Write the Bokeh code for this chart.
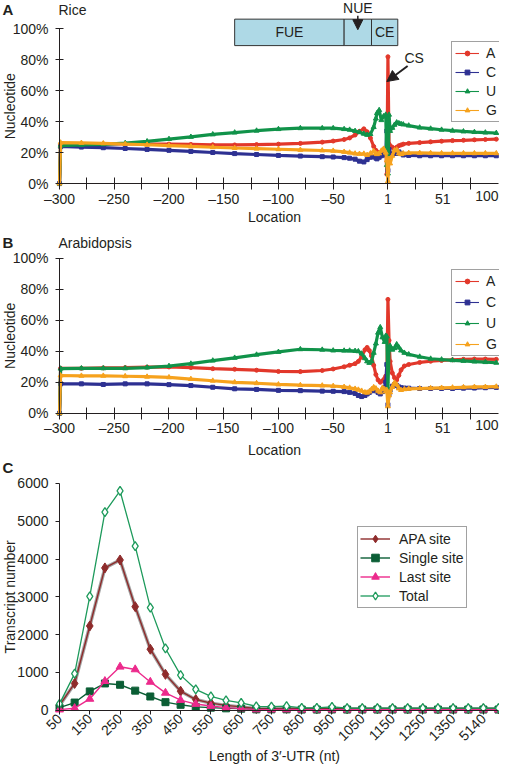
import math
from bokeh.plotting import figure
from bokeh.layouts import column
from bokeh.models import (Range1d, FixedTicker, Label, Legend, LegendItem, Arrow,
                          NormalHead, PrintfTickFormatter)
from bokeh.embed import file_html
from bokeh.resources import INLINE

FONT = "Liberation Sans"
TXT = "#231f20"

# ---------------- data: panel A (rice) ----------------
rice_loc = [-300, -299, -280, -260, -240, -220, -200, -180, -160, -140, -120, -100, -80, -60, -50, -40,
            -35, -30, -26, -22, -19, -16, -13, -11, -10, -8, -6, -4, -2, -1,
            1, 2, 3, 5, 7, 9, 11, 13, 15, 20, 30, 40, 50, 60, 70, 80, 90, 100]
rice_A = [0, 25.5, 25.5, 25.6, 25.6, 25.6, 25.5, 25.3, 25.1, 25.0, 25.2, 25.5, 26.0, 26.8, 27.5, 28.5,
          29.5, 31.4, 33.8, 35.4, 33.5, 29.5, 24.0, 21.5, 20.5, 20.0, 20.3, 21.5, 22.5, 6.0,
          82.0, 25.5, 24.5, 23.5, 22.5, 23.5, 24.5, 25.0, 25.5, 26.0, 26.5, 27.0, 27.4, 27.8, 28.0, 28.3, 28.5, 28.7]
rice_C = [0, 24.0, 23.6, 23.2, 22.7, 22.1, 21.5, 20.8, 20.1, 19.4, 18.8, 18.2, 17.8, 17.4, 17.2, 16.8,
          16.4, 15.8, 14.5, 14.0, 15.5, 17.0, 17.5, 16.5, 16.0, 17.0, 18.0, 18.5, 19.5, 34.0,
          8.5, 22.0, 19.5, 19.0, 19.5, 19.5, 20.5, 19.5, 18.5, 18.2, 18.0, 18.0, 18.0, 18.0, 18.0, 18.0, 18.0, 18.0]
rice_U = [0, 24.5, 25.0, 25.4, 26.2, 27.3, 28.8, 30.2, 31.8, 33.0, 34.2, 35.2, 35.8, 35.8, 35.8, 35.2,
          34.8, 34.0, 33.2, 32.2, 31.5, 32.0, 36.5, 42.0, 45.5, 47.5, 41.0, 43.5, 44.5, 12.0,
          6.5, 44.5, 34.0, 36.0, 38.0, 39.5, 39.0, 38.5, 38.2, 37.5, 36.2, 35.5, 34.8, 34.2, 33.7, 33.3, 33.0, 32.7]
rice_G = [0, 26.5, 26.3, 26.0, 25.6, 25.1, 24.6, 24.0, 23.5, 23.0, 22.6, 22.2, 21.8, 21.4, 21.2, 20.5,
          20.0, 19.4, 19.2, 19.3, 18.5, 19.5, 21.0, 19.5, 19.0, 19.5, 21.3, 22.5, 20.0, 15.0,
          1.5, 16.0, 13.0, 18.0, 21.5, 22.0, 19.5, 19.0, 19.5, 19.8, 19.8, 19.7, 19.6, 19.6, 19.6, 19.6, 19.6, 19.6]

# ---------------- data: panel B (Arabidopsis) ----------------
arab_loc = [-300, -299, -280, -260, -240, -220, -200, -180, -160, -140, -120, -100, -80, -60, -50, -40,
            -35, -30, -27, -24, -21, -19, -17, -15, -13, -11, -9, -7, -5, -3, -2, -1,
            1, 2, 3, 5, 7, 9, 11, 13, 16, 20, 30, 40, 50, 60, 70, 80, 90, 100]
arab_A = [0, 29.0, 29.0, 29.3, 29.5, 29.8, 29.9, 29.5, 28.8, 28.4, 27.8, 27.0, 26.9, 27.6, 28.6, 30.0,
          31.0, 32.0, 33.5, 36.5, 41.0, 42.5, 40.5, 37.0, 31.0, 25.0, 21.5, 20.0, 21.0, 22.5, 24.0, 20.0,
          73.5, 47.0, 33.5, 26.0, 23.0, 21.5, 24.5, 28.0, 30.5, 31.5, 32.8, 33.6, 34.1, 34.5, 34.8, 35.0, 35.0, 34.8]
arab_C = [0, 19.0, 19.0, 18.6, 19.0, 19.0, 18.5, 17.9, 16.8, 15.8, 15.4, 14.8, 14.6, 14.3, 14.2, 14.0,
          13.5, 12.8, 11.5, 10.8, 11.5, 12.5, 13.5, 14.5, 15.5, 14.5, 13.5, 12.5, 14.0, 16.5, 20.0, 31.5,
          5.5, 12.5, 15.0, 17.5, 18.5, 18.0, 17.0, 16.5, 16.3, 16.2, 16.0, 16.0, 16.0, 16.0, 16.2, 16.3, 16.5, 16.7]
arab_U = [0, 28.8, 29.0, 29.0, 29.0, 29.5, 30.5, 32.0, 34.0, 35.8, 37.8, 39.6, 41.3, 41.0, 40.5, 40.4,
          40.4, 40.2, 40.0, 38.5, 35.5, 33.5, 32.5, 33.5, 39.0, 45.0, 52.0, 55.5, 49.0, 46.0, 50.0, 49.5,
          16.0, 42.0, 43.5, 41.0, 42.0, 44.5, 42.5, 40.5, 39.0, 38.0, 36.5, 35.2, 34.7, 34.2, 33.8, 33.4, 33.0, 32.6]
arab_G = [0, 24.4, 24.2, 24.2, 23.9, 23.6, 23.2, 22.1, 21.0, 20.0, 19.4, 18.6, 18.2, 17.9, 17.6, 17.0,
          16.5, 15.8, 15.2, 14.5, 13.5, 13.3, 14.0, 15.5, 16.8, 16.0, 14.5, 13.5, 16.5, 15.5, 14.0, 15.0,
          4.5, 11.5, 13.5, 17.0, 19.8, 18.5, 16.0, 15.0, 15.5, 15.8, 16.0, 16.2, 16.4, 16.6, 16.8, 17.0, 17.0, 17.2]

loc_tick_labels = [-300, -250, -200, -150, -100, -50, 1, 51]
loc_minor_ticks = [-275, -225, -175, -125, -75, -25, 26, 76]
loc_last_label = 100
pct_ticks = [0, 20, 40, 60, 80, 100]

region_edges = [-140, -40, -15, 10]
region_names = ["FUE", "NUE", "CE"]

# ---------------- data: panel C ----------------
utr_len = ["50", "100", "150", "200", "250", "300", "350", "400", "450", "500", "550", "600", "650",
           "700", "750", "800", "850", "900", "950", "1000", "1050", "1100", "1150", "1200", "1250",
           "1300", "1350", "1400", "5140", ">5140"]
apa_site = [130, 710, 2230, 3765, 3975, 2740, 1615, 950, 505, 285, 190, 130, 90, 45, 45, 50, 40, 40,
            45, 40, 40, 40, 40, 40, 40, 40, 40, 40, 40, 40]
single_site = [70, 205, 500, 710, 675, 520, 365, 215, 145, 90, 70, 52, 43, 25, 25, 25, 20, 20, 22, 20,
               20, 20, 20, 20, 20, 20, 20, 20, 20, 20]
last_site = [17, 55, 300, 770, 1150, 1080, 750, 460, 270, 165, 112, 70, 45, 20, 18, 20, 15, 15, 17, 15,
             15, 15, 15, 15, 15, 15, 15, 15, 15, 15]
total = [170, 970, 3010, 5240, 5800, 4340, 2715, 1635, 930, 555, 370, 260, 195, 105, 95, 110, 65, 65,
         90, 60, 55, 55, 55, 55, 55, 55, 55, 60, 60, 60]
count_ticks = [0, 1000, 2000, 3000, 4000, 5000, 6000]


def pos(loc):
    """Position index on the location axis (there is no location 0)."""
    return loc + 300 if loc < 0 else loc + 299


# ---------------- layout constants (canvas pixels) ----------------
W = 499
X0_PX = 59          # canvas x of the vertical axis
X_END_PX = 498      # canvas x where the horizontal axis ends


def make_fig(h, x_lo, x_hi, py_top, py_zero, top_val):
    k = (py_zero - py_top) / top_val          # pixels per y unit
    kx = (X_END_PX - X0_PX) / (x_hi - x_lo)    # pixels per x unit
    xr = Range1d(x_lo - X0_PX / kx, x_lo + (W - X0_PX) / kx)
    yr = Range1d(-(h - py_zero) / k, py_zero / k)
    p = figure(width=W, height=h, output_backend="svg", toolbar_location=None,
               x_range=xr, y_range=yr, min_border=0)
    p.outline_line_color = None
    p.xgrid.visible = False
    p.ygrid.visible = False
    p.background_fill_color = "white"
    p.border_fill_color = "white"
    for ax in (p.xaxis[0], p.yaxis[0]):
        ax.axis_line_color = TXT
        ax.axis_line_width = 1
        ax.major_tick_line_color = TXT
        ax.minor_tick_line_color = TXT
        ax.major_label_text_font = FONT
        ax.major_label_text_font_size = "14px"
        ax.major_label_text_color = TXT
    p.xaxis[0].fixed_location = 0
    p.yaxis[0].fixed_location = x_lo
    p.xaxis[0].bounds = (x_lo, x_hi)
    p.yaxis[0].bounds = (0, top_val)
    return p


def txt(p, text, x, y, xu="screen", yu="screen", align="left", size="14px", style="normal",
        angle=0.0, baseline="middle"):
    p.add_layout(Label(x=x, y=y, x_units=xu, y_units=yu, text=text, text_align=align,
                       text_baseline=baseline, text_font=FONT, text_font_size=size,
                       text_font_style=style, text_color=TXT, angle=angle))


COLORS = {"A": "#e2382b", "C": "#2e3192", "U": "#11934a", "G": "#f6a21e"}
MARKERS = {"A": ("circle", 4), "C": ("square", 4), "U": ("triangle", 5), "G": ("triangle", 5)}


def nuc_panel(letter, species, locs, series, h, py_top, py_zero, leg_y, leg_gap, letter_y, loc_label_y):
    xs = [pos(v) for v in locs]
    x_hi = pos(loc_last_label) + 2
    p = make_fig(h, 0, x_hi, py_top, py_zero, 100)
    items = []
    for name in ["A", "C", "U", "G"]:
        vals = series[name]
        col = COLORS[name]
        mk, ms = MARKERS[name]
        p.line(xs, vals, line_color=col, line_width=3.2)
        thin = p.line(xs, vals, line_color=col, line_width=1.1)
        mks = p.scatter(xs, vals, marker=mk, size=ms, fill_color=col, line_color=col)
        items.append(LegendItem(label=name, renderers=[thin, mks]))

    xa = p.xaxis[0]
    xa.ticker = FixedTicker(ticks=[pos(v) for v in loc_tick_labels],
                            minor_ticks=[pos(v) for v in loc_minor_ticks])
    xa.major_label_overrides = {pos(v): str(v).replace("-", "\u2013") for v in loc_tick_labels}
    xa.major_tick_in = 6
    xa.major_tick_out = 6
    xa.minor_tick_in = 6
    xa.minor_tick_out = 6
    xa.major_label_standoff = 1

    ya = p.yaxis[0]
    ya.ticker = FixedTicker(ticks=pct_ticks, minor_ticks=[])
    ya.formatter = PrintfTickFormatter(format="%d%%")
    ya.major_tick_in = 4
    ya.major_tick_out = 4
    ya.major_label_standoff = 7

    # last location label, right-aligned at the end of the axis
    txt(p, str(loc_last_label), x_hi, h - py_zero - 7, xu="data", yu="screen", align="right",
        baseline="top")

    legend = Legend(items=items, location=(451, leg_y), padding=3, spacing=leg_gap,
                    glyph_width=24, glyph_height=12, label_height=12, label_width=10,
                    label_standoff=7, label_text_font=FONT, label_text_font_size="14px",
                    label_text_color=TXT, border_line_color="#444444", border_line_width=1,
                    margin=0, background_fill_color="white", background_fill_alpha=1)
    p.add_layout(legend)

    txt(p, letter, 2, letter_y, size="15px", style="bold")
    txt(p, species, 58, letter_y)
    txt(p, "Nucleotide", 9, 50, yu="data", align="center", angle=math.pi / 2)
    txt(p, "Location", 274, loc_label_y, align="center")
    return p


pa = nuc_panel("A", "Rice", rice_loc, {"A": rice_A, "C": rice_C, "U": rice_U, "G": rice_G},
               h=225, py_top=28.4, py_zero=183.1, leg_y=103, leg_gap=3, letter_y=216, loc_label_y=9)

# region diagram
lefts = [pos(v) for v in region_edges[:-1]]
rights = [pos(v) for v in region_edges[1:]]
pa.quad(left=lefts, right=rights, bottom=89.2, top=106.3, fill_color="#aed9e6",
        line_color="#333333", line_width=1)
mids = [(a + b) / 2 for a, b in zip(lefts, rights)]
txt(pa, region_names[0], mids[0], 97.7, xu="data", yu="data", align="center")
txt(pa, region_names[2], mids[2], 97.7, xu="data", yu="data", align="center")
txt(pa, region_names[1], mids[1], 113.3, xu="data", yu="data", align="center")
pa.add_layout(Arrow(end=NormalHead(size=10, fill_color=TXT, line_color=TXT), x_start=mids[1],
                    y_start=108.5, x_end=mids[1], y_end=99.5, line_color=TXT, line_width=1.5))
# cleavage site arrow
pa.add_layout(Arrow(end=NormalHead(size=11, fill_color=TXT, line_color=TXT), x_start=pos(19),
                    y_start=76, x_end=pos(-1), y_end=66, line_color=TXT, line_width=2))
txt(pa, "CS", pos(25), 81.5, xu="data", yu="data", align="center")

pb = nuc_panel("B", "Arabidopsis", arab_loc, {"A": arab_A, "C": arab_C, "U": arab_U, "G": arab_G},
               h=233, py_top=32.8, py_zero=187.8, leg_y=102, leg_gap=5, letter_y=216, loc_label_y=9)

# ---------------- panel C ----------------
HC = 306
n = len(utr_len)
pc = make_fig(HC, 0, n - 1, 24.9, 251.8, 6000)
xs = list(range(n))
c_apa, c_single, c_last, c_total = "#8e2b2b", "#0b5e35", "#ec2a8c", "#1d9a5b"

pc.line(xs, apa_site, line_color="#a3a3a3", line_width=3.5)
l1 = pc.line(xs, apa_site, line_color=c_apa, line_width=1.4)
m1 = pc.scatter(xs, apa_site, marker="diamond", size=10, fill_color=c_apa, line_color=c_apa)
l2 = pc.line(xs, single_site, line_color=c_single, line_width=1.4)
m2 = pc.scatter(xs, single_site, marker="square", size=7, fill_color=c_single, line_color=c_single)
l3 = pc.line(xs, last_site, line_color=c_last, line_width=1.4)
m3 = pc.scatter(xs, last_site, marker="triangle", size=8, fill_color=c_last, line_color=c_last)
l4 = pc.line(xs, total, line_color=c_total, line_width=1.3)
m4 = pc.scatter(xs, total, marker="diamond", size=9, fill_color="white", line_color=c_total,
                line_width=1.3)

citems = [LegendItem(label="APA site", renderers=[l1, m1]),
          LegendItem(label="Single site", renderers=[l2, m2]),
          LegendItem(label="Last site", renderers=[l3, m3]),
          LegendItem(label="Total", renderers=[l4, m4])]
pc.add_layout(Legend(items=citems, location=(357, 156), padding=2, spacing=0,
                     glyph_width=30, glyph_height=19, label_height=19, label_standoff=9,
                     label_text_font=FONT, label_text_font_size="14px", label_text_color=TXT,
                     border_line_color="#444444", border_line_width=1, margin=0,
                     background_fill_color="white", background_fill_alpha=1))

cx = pc.xaxis[0]
cx.ticker = FixedTicker(ticks=list(range(0, n - 1, 2)), minor_ticks=[])
cx.major_label_overrides = {i: utr_len[i] for i in range(0, n - 1, 2)}
cx.major_label_orientation = math.pi / 4
cx.major_tick_in = 0
cx.major_tick_out = 4
cx.major_label_standoff = 2

cy = pc.yaxis[0]
cy.ticker = FixedTicker(ticks=count_ticks, minor_ticks=[])
cy.major_tick_in = 0
cy.major_tick_out = 4
cy.major_label_standoff = 7

txt(pc, "C", 2, 297, size="15px", style="bold")
txt(pc, "Transcript number", 9, 3000, yu="data", align="center", angle=math.pi / 2)
txt(pc, "Length of 3\u2032-UTR (nt)", 274, 9, align="center")

layout = column(pa, pb, pc, spacing=0)
open("out.html", "w").write(file_html(layout, INLINE))
